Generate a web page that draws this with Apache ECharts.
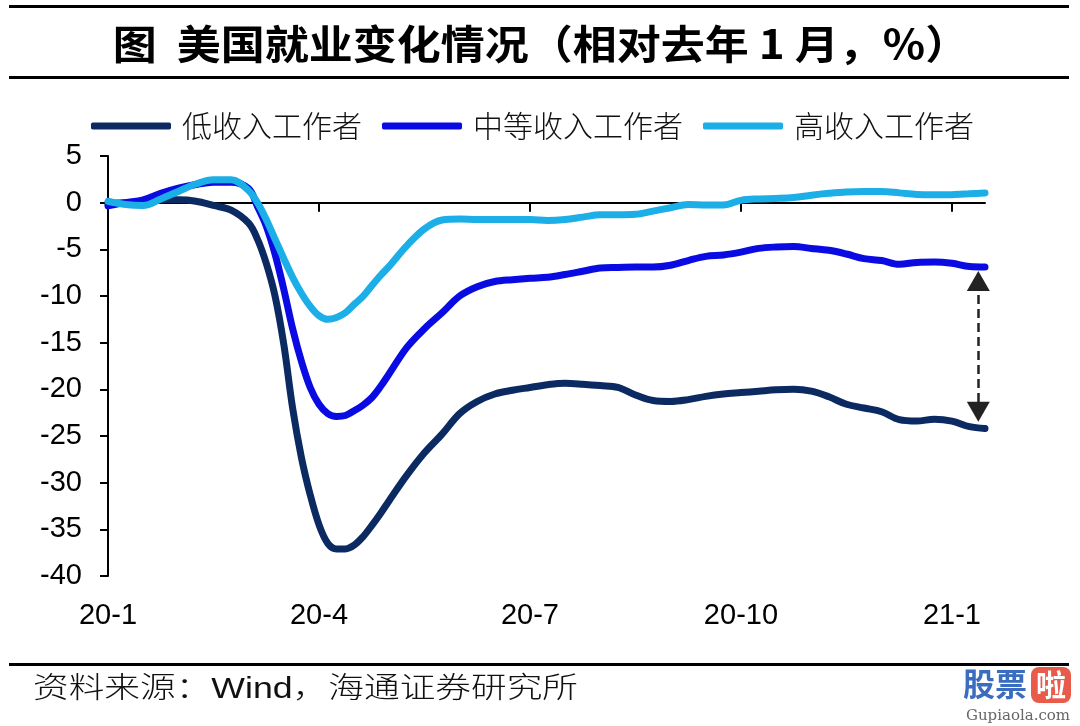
<!DOCTYPE html>
<html>
<head>
<meta charset="utf-8">
<script src="https://cdn.jsdelivr.net/npm/echarts@6/dist/echarts.min.js"></script>
<style>
html,body{margin:0;padding:0;background:#fff;}
#chart{width:1080px;height:726px;}
</style>
</head>
<body>
<div id="chart"></div>
<script>
// x positions in months since 2020-01 (0 = 20-1, 3 = 20-4, ...)
const monthsX = [0,0.25,0.5,0.75,1,1.25,1.5,1.75,2,2.125,2.25,2.375,2.5,2.625,2.75,2.875,3,3.125,3.25,3.375,3.5,3.625,3.75,3.875,4,4.25,4.5,4.75,5,5.25,5.5,5.75,6,6.25,6.5,6.75,7,7.25,7.5,7.75,8,8.25,8.5,8.75,9,9.25,9.5,9.75,10,10.25,10.5,10.75,11,11.25,11.5,11.75,12,12.25,12.47];
const lowIncome = [-0.1,0.0,0.1,0.3,0.3,0.15,-0.3,-0.8,-2.2,-3.9,-6.5,-10.0,-15.2,-22.0,-27.3,-31.3,-34.5,-36.5,-37.1,-37.1,-36.7,-35.8,-34.6,-33.3,-31.9,-29.2,-26.8,-24.8,-22.6,-21.3,-20.5,-20.1,-19.8,-19.5,-19.35,-19.45,-19.6,-19.8,-20.6,-21.2,-21.3,-21.1,-20.75,-20.5,-20.35,-20.2,-20.05,-20.0,-20.2,-20.8,-21.6,-22.0,-22.4,-23.25,-23.4,-23.2,-23.4,-24.0,-24.2];
const midIncome = [-0.35,0.0,0.3,1.0,1.55,1.95,2.2,2.2,1.5,-0.4,-2.5,-5.5,-9.3,-13.5,-17.0,-19.8,-21.6,-22.6,-22.9,-22.8,-22.3,-21.7,-20.9,-19.7,-18.3,-15.5,-13.5,-11.8,-10.0,-9.0,-8.45,-8.25,-8.1,-8.0,-7.7,-7.35,-7.0,-6.95,-6.9,-6.9,-6.7,-6.2,-5.75,-5.6,-5.3,-4.9,-4.75,-4.7,-4.9,-5.1,-5.5,-6.0,-6.2,-6.6,-6.4,-6.35,-6.5,-6.85,-6.9];
const highIncome = [0.15,-0.2,-0.3,0.4,1.2,2.0,2.45,2.45,1.3,0.0,-1.8,-3.9,-6.0,-8.0,-9.7,-11.1,-12.1,-12.5,-12.3,-11.8,-10.9,-10.05,-8.9,-7.8,-6.8,-4.6,-2.8,-1.85,-1.75,-1.8,-1.8,-1.8,-1.8,-1.9,-1.8,-1.55,-1.3,-1.3,-1.25,-0.9,-0.55,-0.2,-0.25,-0.25,0.25,0.4,0.45,0.55,0.8,1.0,1.15,1.2,1.2,1.05,0.88,0.85,0.86,0.95,1.04];
const seriesNames = ['低收入工作者','中等收入工作者','高收入工作者'];
const xTickValues = [0,3,6,9,12];
const xTickLabels = ['20-1','20-4','20-7','20-10','21-1'];
// annotation: double arrow between middle and low income at the end
const gapArrow = {x: 12.375, top: -8.4, bottom: -22.4};

const colors = ['#0c2a62','#0a0ae2','#1caee6'];
const sets = [lowIncome, midIncome, highIncome];

const chart = echarts.init(document.getElementById('chart'), null, {renderer:'canvas'});

const series = sets.map((vals, i) => ({
  name: seriesNames[i],
  type: 'line',
  xAxisIndex: 0,
  yAxisIndex: 0,
  data: monthsX.map((x, k) => [x, vals[k]]),
  smooth: 0.35,
  showSymbol: false,
  symbol: 'none',
  lineStyle: {width: 7, color: colors[i], cap: 'round', join: 'round'},
  itemStyle: {color: colors[i]},
  z: 2 + i,
  animation: false
}));

series[0].markLine = {
  silent: true,
  symbol: ['triangle','triangle'],
  symbolSize: [23, 20],
  label: {show: false},
  lineStyle: {type: [9,5], width: 2.5, color: '#222'},
  itemStyle: {color: '#000'},
  data: [[{coord: [gapArrow.x, gapArrow.top]}, {coord: [gapArrow.x, gapArrow.bottom]}]],
  animation: false
};

const option = {
  backgroundColor: '#fff',
  animation: false,
  grid: {left: 108, right: 95, top: 156, bottom: 150, containLabel: false, outerBoundsMode: 'none'},
  legend: {
    data: seriesNames,
    left: 86, top: 106,
    icon: 'roundRect',
    itemWidth: 80, itemHeight: 7, itemGap: 20,
    textStyle: {fontSize: 30, color: '#111', fontFamily: 'Noto Sans CJK SC', fontWeight: 300, padding: [0,0,0,6]}
  },
  xAxis: [{
    type: 'value', min: 0, max: 12.47, interval: 3,
    axisLine: {onZero: true, lineStyle: {color: '#000', width: 2}},
    axisTick: {show: true, length: 9, lineStyle: {color: '#000', width: 2}, customValues: xTickValues},
    axisLabel: {show: false},
    splitLine: {show: false}
  },{
    type: 'value', min: 0, max: 12.47, interval: 3, position: 'bottom',
    axisLine: {show: false, onZero: false},
    axisTick: {show: false},
    splitLine: {show: false},
    axisLabel: {
      show: true, margin: 25, fontSize: 29, color: '#000', fontFamily: 'Liberation Sans',
      customValues: xTickValues,
      formatter: v => { const i = xTickValues.indexOf(Math.round(v)); return i >= 0 ? xTickLabels[i] : ''; }
    }
  }],
  yAxis: {
    type: 'value', min: -40, max: 5, interval: 5,
    axisLine: {show: true, lineStyle: {color: '#000', width: 2}},
    axisTick: {show: true, length: 8, lineStyle: {color: '#000', width: 2}},
    axisLabel: {fontSize: 29, color: '#000', fontFamily: 'Liberation Sans', margin: 26},
    splitLine: {show: false}
  },
  series: series,
  graphic: [
    {type: 'rect', shape: {x: 9, y: 5, width: 1060, height: 3}, style: {fill: '#000'}},
    {type: 'text', x: 541, y: 44, scaleX: 1.1, originX: 0, style: {text: '图  美国就业变化情况（相对去年 1 月，%）', font: 'bold 40px "Noto Sans CJK SC", "Liberation Sans"', fill: '#000', align: 'center', verticalAlign: 'middle'}},
    {type: 'rect', shape: {x: 9, y: 76, width: 1060, height: 3}, style: {fill: '#000'}},
    {type: 'rect', shape: {x: 9, y: 663, width: 1060, height: 3}, style: {fill: '#000'}},
    {type: 'text', x: 33, y: 690, scaleX: 1.23, style: {text: '资料来源：Wind，海通证券研究所', font: '300 29px "Liberation Sans", "Noto Sans CJK SC"', fill: '#111', align: 'left', verticalAlign: 'middle'}},
    {type: 'text', x: 963, y: 684, style: {text: '股票', font: 'bold 32px "Noto Sans CJK SC"', fill: '#3a6cc0', align: 'left', verticalAlign: 'middle'}},
    {type: 'rect', shape: {x: 1031, y: 667, width: 40, height: 36, r: 8}, style: {fill: '#e85a4a'}},
    {type: 'text', x: 1051, y: 685, style: {text: '啦', font: 'bold 30px "Noto Sans CJK SC"', fill: '#fff', align: 'center', verticalAlign: 'middle'}},
    {type: 'text', x: 1018, y: 716, style: {text: 'Gupiaola.com', font: '15px "DejaVu Serif"', fill: '#666', align: 'center', verticalAlign: 'middle'}}
  ]
};
chart.setOption(option);
</script>
</body>
</html>
